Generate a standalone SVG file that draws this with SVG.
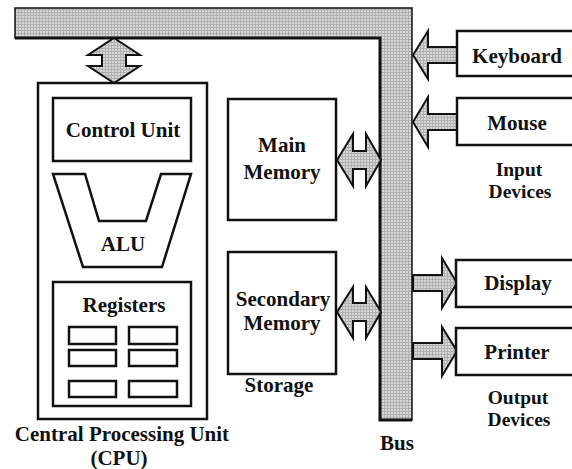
<svg xmlns="http://www.w3.org/2000/svg" width="572" height="469" viewBox="0 0 572 469">
<defs>
<pattern id="grid" width="3" height="3" patternUnits="userSpaceOnUse">
<rect width="3" height="3" fill="#d6d6d6"/>
<path d="M0 0.5H3M0.5 0V3" stroke="#b0b0b0" stroke-width="1"/>
</pattern>
</defs>
<style>
.box{fill:#fff;stroke:#111;stroke-width:2.5}
.arr{fill:url(#grid);stroke:#111;stroke-width:2;stroke-linejoin:miter}
.t{font-family:"Liberation Serif","Times New Roman",serif;font-weight:bold;font-size:21px;fill:#111;text-anchor:middle}
.s{font-size:19.5px}
</style>
<rect width="572" height="469" fill="#fff"/>
<g id="bus">
<path d="M15,8 H412 V420 H380 V38 H15 Z" fill="url(#grid)" stroke="#111" stroke-width="1.5"/>
<path d="M15,38 H380 V420 H412" fill="none" stroke="#111" stroke-width="3"/>
<text class="t" x="397" y="450">Bus</text>
</g>
<g id="connectors">
<polygon class="arr" points="114,38 140,55 126,55 126,66 140,66 114,83 88,66 102,66 102,55 88,55"/>
<polygon class="arr" points="337,160 353,134 353,151 366,151 366,134 381,160 366,186 366,169 353,169 353,186"/>
<polygon class="arr" points="337,312 353,287 353,303 366,303 366,287 381,312 366,338 366,321 353,321 353,338"/>
<polygon class="arr" points="413,55 428,31 428,47 457,47 457,63 428,63 428,79"/>
<polygon class="arr" points="413,122 428,97 428,114 457,114 457,130 428,130 428,147"/>
<polygon class="arr" points="413,275 442,275 442,258 457,283 442,308 442,291 413,291"/>
<polygon class="arr" points="413,343 442,343 442,327 457,351 442,376 442,359 413,359"/>
</g>
<g id="cpu">
<rect class="box" x="38" y="83" width="169" height="336"/>
<text class="t" x="122" y="441">Central Processing Unit</text>
<text class="t" x="119" y="465">(CPU)</text>
</g>
<g id="control-unit">
<rect class="box" x="53" y="98" width="138" height="63"/>
<text class="t" x="123" y="137">Control Unit</text>
</g>
<g id="alu">
<polygon points="53,174 85,174 99,221 146,221 161,174 191,174 162,267 83,267" fill="#fff" stroke="#111" stroke-width="2.5" stroke-linejoin="miter"/>
<text class="t" x="123" y="251">ALU</text>
</g>
<g id="registers">
<rect class="box" x="53" y="282" width="138" height="124"/>
<text class="t" x="124" y="312">Registers</text>
<rect class="box" x="69" y="327" width="47" height="17"/>
<rect class="box" x="129" y="327" width="48" height="17"/>
<rect class="box" x="69" y="350" width="47" height="16"/>
<rect class="box" x="129" y="350" width="48" height="16"/>
<rect class="box" x="69" y="381" width="47" height="16"/>
<rect class="box" x="129" y="381" width="48" height="16"/>
</g>
<g id="main-memory">
<rect class="box" x="228" y="99" width="108" height="121"/>
<text class="t" x="282" y="152">Main</text>
<text class="t" x="282" y="179">Memory</text>
</g>
<g id="secondary-memory">
<rect class="box" x="228" y="252" width="108" height="122"/>
<text class="t" x="283" y="306">Secondary</text>
<text class="t" x="282" y="330">Memory</text>
<text class="t" x="279" y="392">Storage</text>
</g>
<g id="keyboard">
<rect class="box" x="457" y="31" width="120" height="45"/>
<text class="t" x="517" y="63">Keyboard</text>
</g>
<g id="mouse">
<rect class="box" x="457" y="98" width="120" height="47"/>
<text class="t" x="517" y="130">Mouse</text>
<text class="t s" x="519" y="176">Input</text>
<text class="t s" x="520" y="198">Devices</text>
</g>
<g id="display">
<rect class="box" x="456" y="260" width="121" height="47"/>
<text class="t" x="518" y="290">Display</text>
</g>
<g id="printer">
<rect class="box" x="456" y="328" width="121" height="47"/>
<text class="t" x="517" y="359">Printer</text>
<text class="t s" x="518" y="404">Output</text>
<text class="t s" x="519" y="426">Devices</text>
</g>
</svg>
